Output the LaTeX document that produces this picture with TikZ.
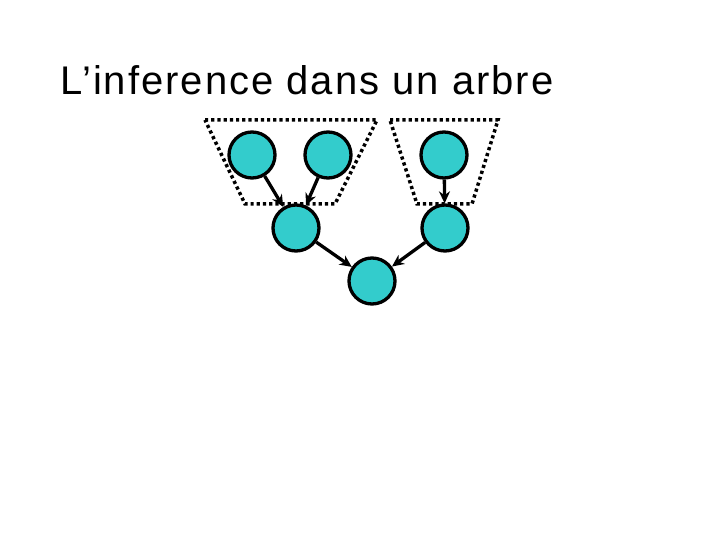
\documentclass[tikz,border=0pt]{standalone}
\usepackage{fontspec}
\setmainfont{Liberation Sans}
\newfontfamily\titlefont[LetterSpace=5]{Liberation Sans}
\usetikzlibrary{arrows.meta}
\definecolor{nodecyan}{RGB}{51,204,204}
\begin{document}
\begin{tikzpicture}[x=1pt,y=-1pt,
  vnode/.style={circle,draw=black,line width=3.3pt,fill=nodecyan,minimum size=46pt,inner sep=0pt},
  arc/.style={line width=3.3pt,-{Stealth[length=12pt,width=11pt]}},
  grp/.style={draw=black,line width=3.5pt,dash pattern=on 3.2pt off 3pt}]
\useasboundingbox (0,0) rectangle (720,540);
\node[anchor=base west,font=\titlefont\fontsize{40}{48}\selectfont,inner sep=0pt] (title) at (60,95) {L’inference dans un arbre};
\draw[grp] (205,120) -- (377,120) -- (335,204) -- (245,204) -- cycle;
\draw[grp] (390,120) -- (498,120) -- (472,204) -- (417,204) -- cycle;
\node[vnode] (a) at (252,155) {};
\node[vnode] (b) at (328,155) {};
\node[vnode] (c) at (444,155) {};
\node[vnode] (d) at (296,228) {};
\node[vnode] (e) at (445,228) {};
\node[vnode] (f) at (372,281) {};
\draw[arc] (a) -- (d);
\draw[arc] (b) -- (d);
\draw[arc] (c) -- (e);
\draw[arc] (d) -- (f);
\draw[arc] (e) -- (f);
\end{tikzpicture}
\end{document}
